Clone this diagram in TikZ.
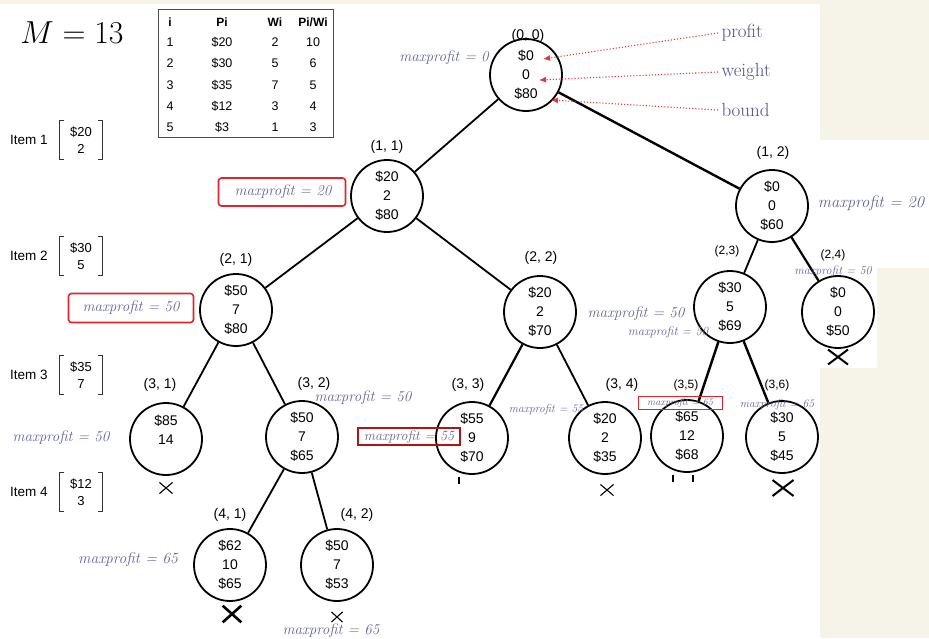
\documentclass[tikz,border=0pt]{standalone}
\usepackage{fontspec}
\setsansfont{Liberation Sans}
\usetikzlibrary{arrows.meta,shapes.misc}
\definecolor{cream}{HTML}{F6F4E8}
\definecolor{mpc}{HTML}{64649A}
\definecolor{labc}{HTML}{50508A}
\definecolor{rbox}{HTML}{E3232B}
\definecolor{dred}{HTML}{B01515}
\definecolor{arr}{HTML}{E8323C}
\begin{document}
\begin{tikzpicture}[x=1pt,y=-1pt,
  st/.style={circle,draw,line width=1.8pt,minimum size=72pt,inner sep=0pt,align=center,
    font=\sffamily\fontsize{14}{19}\selectfont},
  idx/.style={font=\sffamily\fontsize{14}{16}\selectfont},
  hidx/.style={font=\sffamily\fontsize{12}{14}\selectfont},
  mp/.style={text=mpc,inner sep=1pt,font=\itshape\fontsize{#1}{#1}\selectfont},
  mp/.default=15,
  redbox/.style={draw=rbox,line width=1.6pt,rounded corners=3pt},
  edge/.style={line width=1.8pt},
  xm/.style={cross out,draw,line width=#1,inner sep=0pt},
  tb/.style={font=\sffamily\fontsize{12.5}{14}\selectfont},
  tbh/.style={font=\sffamily\bfseries\fontsize{12}{14}\selectfont},
  ann/.style={text=labc,font=\fontsize{19}{21}\selectfont,anchor=west},
  dot/.style={draw=arr,dotted,line width=1.1pt,-{Latex[length=7pt,width=6pt]}},
  item/.style={font=\sffamily\fontsize{13.5}{15}\selectfont,anchor=west,inner sep=0pt},
  ivec/.style={align=center,inner sep=0pt,minimum width=42pt,minimum height=38pt,
    font=\sffamily\fontsize{13}{17}\selectfont},
  brk/.style={line width=1.2pt,draw=black!80}
]
% background
\fill[cream] (0,0) rectangle (929,638);
\fill[white] (0,4) rectangle (820,638);
\fill[white] (820,140) rectangle (929,268);
\fill[white] (820,268) rectangle (877,368);
\useasboundingbox (0,0) rectangle (929,638);

% M = 13
\node[scale=1.28] (M) at (72,33) {\fontsize{24.88}{27}\selectfont $M = 13$};

% table
\draw[line width=1pt,draw=black!70] (158,9) rectangle (333,137);
\node[tbh] (th1) at (170,22) {i};
\node[tbh] (th2) at (222,22) {Pi};
\node[tbh] (th3) at (275,22) {Wi};
\node[tbh] (th4) at (313,22) {Pi/Wi};
\foreach \i/\p/\w/\q/\y in {1/\$20/2/10/42, 2/\$30/5/6/63, 3/\$35/7/5/85, 4/\$12/3/4/106, 5/\$3/1/3/127}{
  \node[tb] (ti\i) at (170,\y) {\i};
  \node[tb] (tp\i) at (222,\y) {\p};
  \node[tb] (tw\i) at (275,\y) {\w};
  \node[tb] (tq\i) at (313,\y) {\q};
}

% item labels
\foreach \k/\y/\p/\w in {1/140/20/2, 2/256/30/5, 3/375/35/7, 4/492/12/3}{
  \node[item] (it\k) at (10,\y) {Item \k};
  \node[ivec] (iv\k) at (81,\y) {\$\p\\\w};
  \draw[brk] ([xshift=4pt]iv\k.north west) -- (iv\k.north west) -- (iv\k.south west) -- ([xshift=4pt]iv\k.south west);
  \draw[brk] ([xshift=-4pt]iv\k.north east) -- (iv\k.north east) -- (iv\k.south east) -- ([xshift=-4pt]iv\k.south east);
}

% state nodes
\node[st] (n00) at (526,75) {\$0\\0\\\$80};
\node[st] (n11) at (387,196) {\$20\\2\\\$80};
\node[st] (n12) at (772,206) {\$0\\0\\\$60};
\node[st] (n21) at (236,310) {\$50\\7\\\$80};
\node[st] (n22) at (540,312) {\$20\\2\\\$70};
\node[st] (n23) at (730,307) {\$30\\5\\\$69};
\node[st] (n24) at (838,312) {\$0\\0\\\$50};
\node[st] (n31) at (166,439) {\$85\\14\\~};
\node[st] (n32) at (302,437) {\$50\\7\\\$65};
\node[st] (n33) at (472,438) {\$55\\9\\\$70};
\node[st] (n34) at (605,438) {\$20\\2\\\$35};
\node[st] (n35) at (687,436) {\$65\\12\\\$68};
\node[st] (n36) at (782,437) {\$30\\5\\\$45};
\node[st] (n41) at (230,565) {\$62\\10\\\$65};
\node[st] (n42) at (337,565) {\$50\\7\\\$53};

% index labels
\node[idx] (l00) at (528,36) {(0, 0)};
\node[idx] (l11) at (387,147) {(1, 1)};
\node[idx] (l12) at (773,153) {(1, 2)};
\node[idx] (l21) at (236,260) {(2, 1)};
\node[idx] (l22) at (541,258) {(2, 2)};
\node[hidx] (l23) at (727,251) {(2,3)};
\node[hidx] (l24) at (833,255) {(2,4)};
\node[idx] (l31) at (160,385) {(3, 1)};
\node[idx] (l32) at (314,384) {(3, 2)};
\node[idx] (l33) at (468,385) {(3, 3)};
\node[idx] (l34) at (622,385) {(3, 4)};
\node[hidx] (l35) at (686,385) {(3,5)};
\node[hidx] (l36) at (777,385) {(3,6)};
\node[idx] (l41) at (230,515) {(4, 1)};
\node[idx] (l42) at (357,515) {(4, 2)};

% edges
\draw[edge] (n00) -- (n11);
\draw[edge,line width=2.4pt] (n00) -- (n12);
\draw[edge] (n11) -- (n21);
\draw[edge] (n11) -- (n22);
\draw[edge] (n12) -- (n23);
\draw[edge,line width=2.2pt] (n12) -- (n24);
\draw[edge] (n21) -- (n31);
\draw[edge] (n21) -- (n32);
\draw[edge,line width=2.2pt] (n22) -- (n33);
\draw[edge] (n22) -- (n34);
\draw[edge,line width=2.4pt] (n23) -- (n35);
\draw[edge,line width=2.4pt] (n23) -- (n36);
\draw[edge] (n32) -- (n41);
\draw[edge] (n32) -- (n42);
% small stubs under (3,3) and (3,5)
\draw[line width=1.6pt] ([xshift=-13pt,yshift=-2pt]n33.south) -- ++(0,7);
\draw[line width=1.6pt] ([xshift=-14pt,yshift=-2pt]n35.south) -- ++(0,7);
\draw[line width=1.6pt] ([xshift=6pt,yshift=-2pt]n35.south) -- ++(0,7);

% maxprofit labels
\node[mp=15] (m00) at (444,58) {maxprofit = 0};
\node[mp=15] (m11) at (283,192) {maxprofit = 20};
\node[redbox,minimum width=127pt,minimum height=28pt] (b11) at (282,192) {};
\node[mp=16.5] (m12) at (871,203) {maxprofit = 20};
\node[mp=15] (m21) at (131,308) {maxprofit = 50};
\node[redbox,minimum width=125pt,minimum height=29pt] (b21) at (131,308) {};
\node[mp=15] (m23a) at (636,314) {maxprofit = 50};
\node[mp=12.5] (m23b) at (668,332) {maxprofit = 50};
\node[mp=12] (m24) at (833,271) {maxprofit = 50};
\node[mp=15] (m31) at (61,438) {maxprofit = 50};
\node[mp=15] (m32) at (363,398) {maxprofit = 50};
\node[mp=14] (m33) at (409,436.5) {maxprofit = 55};
\node[draw=dred,line width=2pt,minimum width=102pt,minimum height=17pt] (b33) at (409,436.5) {};
\node[mp=11.5] (m34) at (546,410) {maxprofit = 55};
\node[mp=10] (m35) at (680,402.5) {maxprofit = 65};
\node[draw=rbox,line width=0.8pt,minimum width=84pt,minimum height=13pt] (b35) at (680,402.5) {};
\node[mp=11.5] (m36) at (777,405) {maxprofit = 65};
\node[mp=15.5] (m41) at (128,560) {maxprofit = 65};
\node[mp=15] (m42) at (331,631) {maxprofit = 65};

% crosses
\node[xm=1.1pt,minimum width=12pt,minimum height=10pt] (x31) at (166,488) {};
\node[xm=2pt,minimum width=18pt,minimum height=13pt] (x24) at (838,357) {};
\node[xm=1.1pt,minimum width=12pt,minimum height=10pt] (x34) at (607,490) {};
\node[xm=2pt,minimum width=19pt,minimum height=14pt] (x36) at (783,488) {};
\node[xm=2.6pt,minimum width=16pt,minimum height=14pt] (x41) at (232,614) {};
\node[xm=1.1pt,minimum width=10pt,minimum height=9pt] (x42) at (337,617) {};

% annotations
\node[ann] (ap) at (718,33) {profit};
\node[ann] (aw) at (718,72) {weight};
\node[ann] (ab) at (718,110) {bound};
\coordinate (tp) at (543,59);
\coordinate (tw) at (539,80);
\coordinate (tbd) at (551,100);
\draw[dot] (ap.west) -- (tp);
\draw[dot] (aw.west) -- (tw);
\draw[dot] (ab.west) -- (tbd);
\end{tikzpicture}
\end{document}
